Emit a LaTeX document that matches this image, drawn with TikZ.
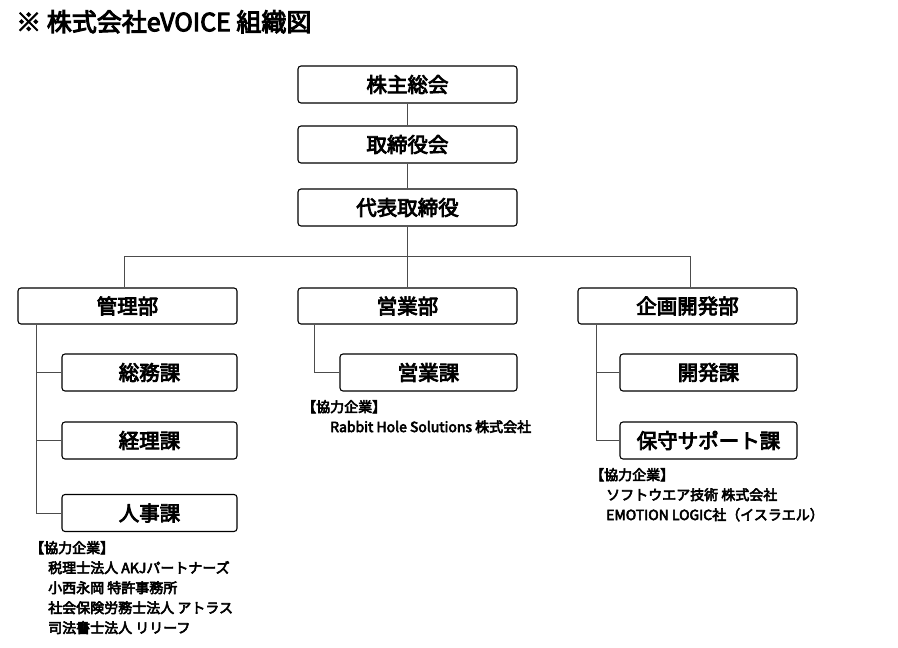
\documentclass[tikz,border=0pt]{standalone}
\usepackage{fontspec}
\setmainfont{Noto Sans CJK JP}[AutoFakeBold=4]
\begin{document}
\begin{tikzpicture}[x=1pt,y=-1pt,
  bx/.style={draw=black,line width=1.1pt,rounded corners=3pt,fill=white,inner sep=0pt,font=\fontsize{20.5}{20}\selectfont\bfseries},
  ln/.style={draw=black!70,line width=0.8pt},
  note/.style={anchor=north west,align=left,font=\fontsize{14}{20}\selectfont\bfseries,inner sep=0pt}]
\useasboundingbox (0,0) rectangle (898,648);
\node[anchor=north west,inner sep=0pt,font=\fontsize{25}{25}\selectfont\bfseries] (title) at (16,10) {※ 株式会社eVOICE 組織図};
\node[bx,minimum width=219pt,minimum height=37pt] (k) at (407.5,84.5) {株主総会};
\node[bx,minimum width=219pt,minimum height=37pt] (t) at (407.5,144.5) {取締役会};
\node[bx,minimum width=219pt,minimum height=37pt] (d) at (407.5,207.5) {代表取締役};
\node[bx,minimum width=219pt,minimum height=36pt] (a) at (127.5,306) {管理部};
\node[bx,minimum width=219pt,minimum height=36pt] (e) at (407.5,306) {営業部};
\node[bx,minimum width=219pt,minimum height=36pt] (p) at (687.5,306) {企画開発部};
\node[bx,minimum width=175pt,minimum height=37pt] (a1) at (149.5,372.5) {総務課};
\node[bx,minimum width=175pt,minimum height=37pt] (a2) at (149.5,440.5) {経理課};
\node[bx,minimum width=175pt,minimum height=37pt] (a3) at (149.5,513) {人事課};
\node[bx,minimum width=177pt,minimum height=37pt] (e1) at (428.5,372.5) {営業課};
\node[bx,minimum width=177pt,minimum height=37pt] (p1) at (708.5,372.5) {開発課};
\node[bx,minimum width=177pt,minimum height=37pt] (p2) at (708.5,440.5) {保守サポート課};
\coordinate (hl) at (124,256);
\coordinate (hr) at (690,256);
\draw[ln] (k) -- (t); \draw[ln] (t) -- (d);
\draw[ln] (d.south) -- (d.south |- hl);
\draw[ln] (hl) -- (hr);
\draw[ln] (hl) -- (a.north -| hl);
\draw[ln] (e.north |- hl) -- (e.north);
\draw[ln] (hr) -- (p.north -| hr);
\draw[ln] (a.south -| 36,0) -- (36,513) -- (a3.west);
\draw[ln] (36,372.5) -- (a1.west);
\draw[ln] (36,440.5) -- (a2.west);
\draw[ln] (e.south -| 314,0) -- (314,372.5) -- (e1.west);
\draw[ln] (p.south -| 596,0) -- (596,440.5) -- (p2.west);
\draw[ln] (596,372.5) -- (p1.west);
\node[note] (n1) at (302,400) {【協力企業】\\\hspace*{28pt}Rabbit Hole Solutions 株式会社};
\node[note] (n2) at (590,468) {【協力企業】\\\hspace*{16pt}ソフトウエア技術 株式会社\\\hspace*{16pt}EMOTION LOGIC社（イスラエル）};
\node[note] (n3) at (30,541) {【協力企業】\\\hspace*{18pt}税理士法人 AKJパートナーズ\\\hspace*{18pt}小西永岡 特許事務所\\\hspace*{18pt}社会保険労務士法人 アトラス\\\hspace*{18pt}司法書士法人 リリーフ};
\end{tikzpicture}
\end{document}
